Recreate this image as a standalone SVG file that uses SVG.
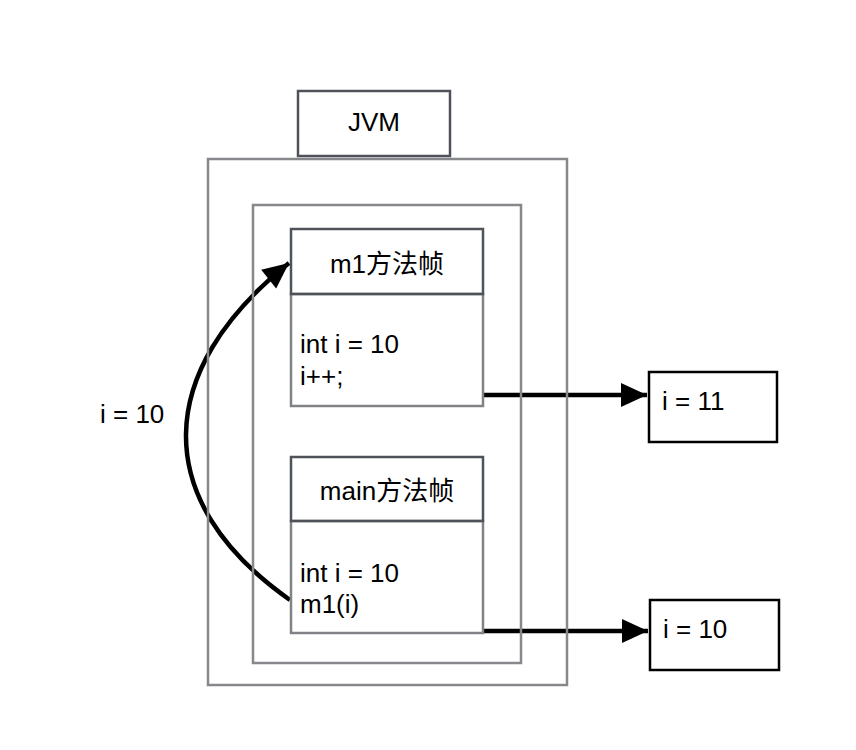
<svg xmlns="http://www.w3.org/2000/svg" width="856" height="750" viewBox="0 0 856 750">
<style>
text{font-family:"Liberation Sans",Arial,"Noto Sans CJK SC",sans-serif;font-size:26px;fill:#000}
.c{text-anchor:middle}
.cont{fill:none;stroke:#87888b;stroke-width:2.5}
.hdr{fill:none;stroke:#4f5359;stroke-width:2.5}
.body{fill:none;stroke:#808285;stroke-width:2.5}
.box{fill:none;stroke:#000;stroke-width:2.5}
.edge{fill:none;stroke:#000;stroke-width:4.5}
</style>
<defs>
<marker id="ah" markerUnits="userSpaceOnUse" markerWidth="28" markerHeight="28" viewBox="0 0 28 28" refX="27" refY="14" orient="auto">
<path d="M1,2 L27,14 L1,26 Z" fill="#000"/>
</marker>
</defs>
<rect width="856" height="750" fill="#fff"/>
<g id="connectors">
<path class="edge" d="M483,395 L647,395" marker-end="url(#ah)"/>
<path class="edge" d="M483,631 L648,631" marker-end="url(#ah)"/>
<path class="edge" d="M290,600 C148,500 155,370 289,263" marker-end="url(#ah)"/>
<text x="100" y="423">i = 10</text>
</g>
<g id="jvm-outer"><rect class="cont" x="208" y="159" width="359" height="526"/></g>
<g id="jvm-inner"><rect class="cont" x="253" y="205" width="268" height="458"/></g>
<g id="jvm">
<rect class="hdr" x="298" y="91" width="152" height="65"/>
<text class="c" x="374" y="131">JVM</text>
</g>
<g id="m1-frame">
<rect class="body" x="291" y="294" width="192" height="112"/>
<rect class="hdr" x="291" y="229" width="192" height="65"/>
<text class="c" x="387" y="273">m1方法帧</text>
<text x="300" y="353">int i = 10</text>
<text x="300" y="385">i++;</text>
</g>
<g id="main-frame">
<rect class="body" x="291" y="521" width="192" height="112"/>
<rect class="hdr" x="291" y="457" width="192" height="64"/>
<text class="c" x="387" y="500">main方法帧</text>
<text x="300" y="582">int i = 10</text>
<text x="300" y="613">m1(i)</text>
</g>
<g id="val-11">
<rect class="box" x="649" y="372" width="128" height="70"/>
<text x="662" y="410">i = 11</text>
</g>
<g id="val-10">
<rect class="box" x="650" y="600" width="129" height="70"/>
<text x="663" y="638">i = 10</text>
</g>
</svg>
